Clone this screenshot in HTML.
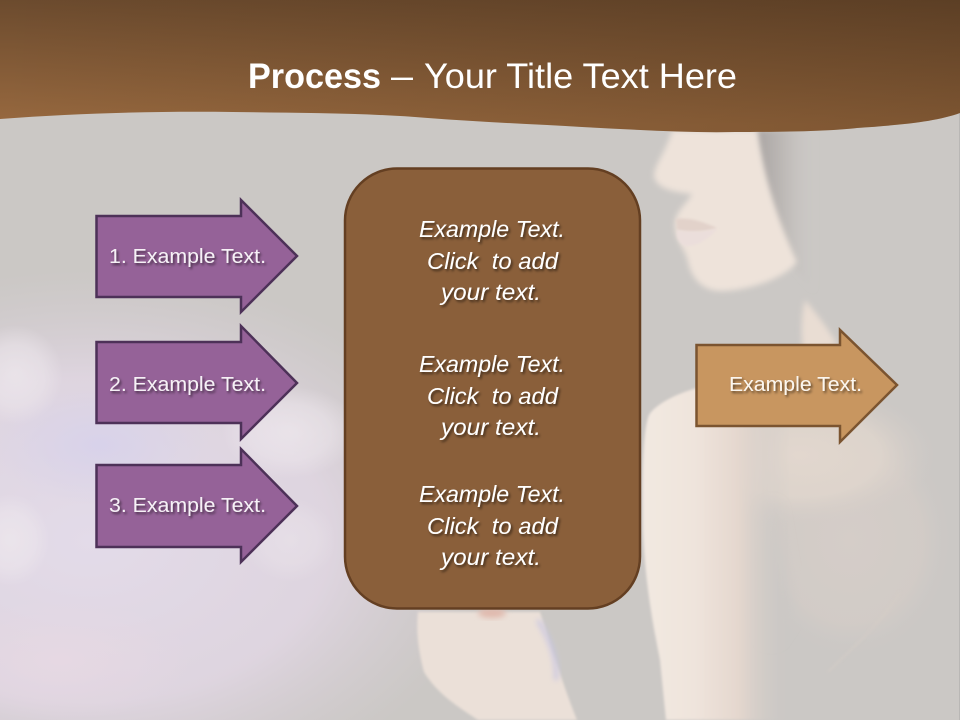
<!DOCTYPE html>
<html>
<head>
<meta charset="utf-8">
<style>
html,body{margin:0;padding:0;width:960px;height:720px;overflow:hidden;background:#cbc8c5}
svg{display:block}
text{font-family:"Liberation Sans",sans-serif}
</style>
</head>
<body>
<svg xmlns="http://www.w3.org/2000/svg" width="960" height="720" viewBox="0 0 960 720">
<defs>
<linearGradient id="hdr" gradientUnits="userSpaceOnUse" x1="0" y1="0" x2="0" y2="125">
<stop offset="0" stop-color="#6c4b2e"/>
<stop offset="1" stop-color="#98693f"/>
</linearGradient>
<linearGradient id="hdr2" gradientUnits="userSpaceOnUse" x1="0" y1="0" x2="960" y2="0">
<stop offset="0" stop-color="#2a1808" stop-opacity="0"/>
<stop offset="1" stop-color="#2a1808" stop-opacity=".24"/>
</linearGradient>
<radialGradient id="lil" gradientUnits="userSpaceOnUse" cx="90" cy="540" r="1" gradientTransform="translate(90 540) scale(400 270) translate(-90 -540)">
<stop offset="0" stop-color="#e3dbe9" stop-opacity="1"/>
<stop offset="0.6" stop-color="#e0d6e2" stop-opacity=".9"/>
<stop offset="1" stop-color="#d8cfd8" stop-opacity="0"/>
</radialGradient>
<radialGradient id="vio" cx="0.5" cy="0.5" r="0.5">
<stop offset="0" stop-color="#d8d2ea" stop-opacity="1"/>
<stop offset="1" stop-color="#d8d2ea" stop-opacity="0"/>
</radialGradient>
<radialGradient id="pnk" cx="0.5" cy="0.5" r="0.5">
<stop offset="0" stop-color="#e6d8e3" stop-opacity="1"/>
<stop offset="1" stop-color="#e6d8e3" stop-opacity="0"/>
</radialGradient>
<radialGradient id="wht" cx="0.5" cy="0.5" r="0.5">
<stop offset="0" stop-color="#eee8ed" stop-opacity=".75"/>
<stop offset="0.6" stop-color="#eee8ed" stop-opacity=".5"/>
<stop offset="1" stop-color="#eee8ed" stop-opacity="0"/>
</radialGradient>
<linearGradient id="arm" gradientUnits="userSpaceOnUse" x1="643" y1="0" x2="790" y2="0">
<stop offset="0" stop-color="#f2e9e1"/>
<stop offset="0.35" stop-color="#efe4dc"/>
<stop offset="0.65" stop-color="#e4d7ce"/>
<stop offset="1" stop-color="#cbc8c5" stop-opacity="0"/>
</linearGradient>
<radialGradient id="bk" cx="0.5" cy="0.5" r="0.5">
<stop offset="0" stop-color="#d5cdc8" stop-opacity="1"/>
<stop offset="0.7" stop-color="#d3ccc7" stop-opacity=".8"/>
<stop offset="1" stop-color="#cbc8c5" stop-opacity="0"/>
</radialGradient>
<radialGradient id="top" cx="0.5" cy="0.5" r="0.5">
<stop offset="0" stop-color="#e2d7ce" stop-opacity="1"/>
<stop offset="0.6" stop-color="#e0d6cd" stop-opacity=".8"/>
<stop offset="1" stop-color="#d5cdc8" stop-opacity="0"/>
</radialGradient>
<linearGradient id="hairg" gradientUnits="userSpaceOnUse" x1="757" y1="0" x2="815" y2="0">
<stop offset="0" stop-color="#aaa5a3"/>
<stop offset="0.5" stop-color="#bfbbb8"/>
<stop offset="1" stop-color="#cbc8c5" stop-opacity="0"/>
</linearGradient>
<filter id="b1" x="-20%" y="-20%" width="140%" height="140%"><feGaussianBlur stdDeviation="1.2"/></filter>
<filter id="b3" x="-30%" y="-30%" width="160%" height="160%"><feGaussianBlur stdDeviation="3"/></filter>
<filter id="b6" x="-30%" y="-30%" width="160%" height="160%"><feGaussianBlur stdDeviation="8"/></filter>
<filter id="ts" x="-10%" y="-30%" width="120%" height="170%"><feDropShadow dx="1.6" dy="2" stdDeviation="1.3" flood-color="#000" flood-opacity=".55"/></filter>
</defs>

<rect width="960" height="720" fill="#cbc8c5"/>
<!-- left bokeh -->
<rect x="0" y="270" width="490" height="450" fill="url(#lil)"/>
<ellipse cx="100" cy="445" rx="110" ry="60" fill="url(#vio)"/>
<ellipse cx="60" cy="660" rx="130" ry="60" fill="url(#pnk)"/>
<ellipse cx="15" cy="375" rx="48" ry="50" fill="url(#wht)"/>
<ellipse cx="10" cy="540" rx="40" ry="46" fill="url(#wht)"/>
<ellipse cx="290" cy="432" rx="68" ry="46" fill="url(#wht)"/>
<ellipse cx="290" cy="540" rx="46" ry="42" fill="url(#wht)" opacity=".6"/>

<!-- woman: hair -->
<path d="M756 130 C760 185 782 240 795 268 C805 282 822 300 845 330 L815 130Z" fill="url(#hairg)" filter="url(#b3)"/>
<!-- face -->
<path d="M672 130 C668 148 654 165 654 176 C656 188 672 192 692 194 C686 205 674 212 675 226 C675 240 686 250 688 262 C692 280 704 292 724 291 C750 290 785 278 797 262 C785 235 765 190 757 130Z" fill="#eee3da" filter="url(#b3)"/>
<path d="M676 219 C690 217 703 222 717 228 C705 232 690 233 677 230Z" fill="#e2d2ca" filter="url(#b1)"/>
<path d="M677 230 C690 233 705 232 717 229 C708 240 695 247 685 246 C678 243 676 236 677 230Z" fill="#ebdedb" filter="url(#b1)"/>
<!-- neck -->
<path d="M805 300 C801 315 801 335 803 350 L838 346 C828 328 815 312 805 300Z" fill="#e9ddd3" filter="url(#b3)"/>
<!-- back -->
<ellipse cx="850" cy="540" rx="105" ry="120" fill="url(#bk)"/>
<ellipse cx="800" cy="455" rx="135" ry="70" fill="url(#top)"/>
<path d="M772 505 L790 610 L770 640 L752 560Z" fill="#cbc8c5" filter="url(#b6)"/>
<path d="M900 592 C880 625 850 650 828 672" stroke="#d7cec6" stroke-width="2" fill="none" opacity=".5" filter="url(#b1)"/>
<!-- arm -->
<path d="M697 388 C675 394 655 405 649 415 C643 430 642 470 643 530 C645 580 652 620 660 660 L666 720 L800 720 L800 388Z" fill="url(#arm)" filter="url(#b1)"/>
<!-- hand -->
<path d="M418 612 L540 612 C552 650 565 690 577 720 L478 720 C460 708 438 695 424 672 C418 650 416 630 418 612Z" fill="#ebe0d8" filter="url(#b1)"/>
<path d="M538 620 C550 640 558 660 556 680" stroke="#c8c6e2" stroke-width="4" fill="none" filter="url(#b3)"/>
<ellipse cx="492" cy="613" rx="14" ry="5" fill="#e0b9ad" filter="url(#b3)"/>
<rect x="959" y="110" width="1" height="610" fill="#b9b7b5"/>

<!-- header -->
<path d="M0 119 C80 113 160 111 233 112 C300 113 370 113 428 118 C480 122 530 124 582 127 C640 130 690 133 735 132 C790 132 830 131 857 128 C900 125 935 122 960 113 L960 0 L0 0Z" fill="url(#hdr)"/>
<path d="M0 119 C80 113 160 111 233 112 C300 113 370 113 428 118 C480 122 530 124 582 127 C640 130 690 133 735 132 C790 132 830 131 857 128 C900 125 935 122 960 113 L960 0 L0 0Z" fill="url(#hdr2)"/>
<g fill="#fff">
<text x="248" y="88" font-size="35" font-weight="700" textLength="133" lengthAdjust="spacingAndGlyphs">Process</text>
<text x="391" y="88" font-size="35" textLength="22" lengthAdjust="spacingAndGlyphs">–</text>
<text x="424" y="88" font-size="35" textLength="313" lengthAdjust="spacingAndGlyphs">Your Title Text Here</text>
</g>

<!-- arrows -->
<g stroke="#4d3158" stroke-width="2.5" fill="#956298" stroke-linejoin="miter">
<path d="M96.500 216 H241 V200 L297 256 L241 312 V297 H96.500Z"/>
<path d="M96.500 342 H241 V326 L297 383 L241 439 V423 H96.500Z"/>
<path d="M96.500 465 H241 V449 L297 506 L241 562 V547 H96.500Z"/>
</g>
<path d="M696.500 345 H840 V330 L897 385 L840 442 V426 H696.500Z" fill="#c89660" stroke="#7b5430" stroke-width="2.5"/>

<!-- center box -->
<rect x="345" y="168.500" width="295" height="440" rx="52" ry="52" fill="#8a5f3a" stroke="#643f22" stroke-width="2.500"/>

<!-- labels -->
<g fill="#f6f1f6" font-size="20" filter="url(#ts)">
<text x="109" y="263" textLength="157" lengthAdjust="spacingAndGlyphs">1. Example Text.</text>
<text x="109" y="391" textLength="157" lengthAdjust="spacingAndGlyphs">2. Example Text.</text>
<text x="109" y="512" textLength="157" lengthAdjust="spacingAndGlyphs">3. Example Text.</text>
<text x="729" y="391" textLength="133" lengthAdjust="spacingAndGlyphs" fill="#fbf6ef">Example Text.</text>
</g>
<g fill="#fff" font-size="23" font-style="italic" filter="url(#ts)">
<text x="419" y="237" textLength="146" lengthAdjust="spacingAndGlyphs">Example Text.</text>
<text x="427" y="269" textLength="131" lengthAdjust="spacingAndGlyphs" xml:space="preserve">Click  to add</text>
<text x="441" y="300" textLength="100" lengthAdjust="spacingAndGlyphs">your text.</text>
<text x="419" y="372" textLength="146" lengthAdjust="spacingAndGlyphs">Example Text.</text>
<text x="427" y="404" textLength="131" lengthAdjust="spacingAndGlyphs" xml:space="preserve">Click  to add</text>
<text x="441" y="435" textLength="100" lengthAdjust="spacingAndGlyphs">your text.</text>
<text x="419" y="502" textLength="146" lengthAdjust="spacingAndGlyphs">Example Text.</text>
<text x="427" y="534" textLength="131" lengthAdjust="spacingAndGlyphs" xml:space="preserve">Click  to add</text>
<text x="441" y="565" textLength="100" lengthAdjust="spacingAndGlyphs">your text.</text>
</g>
</svg>
</body>
</html>
